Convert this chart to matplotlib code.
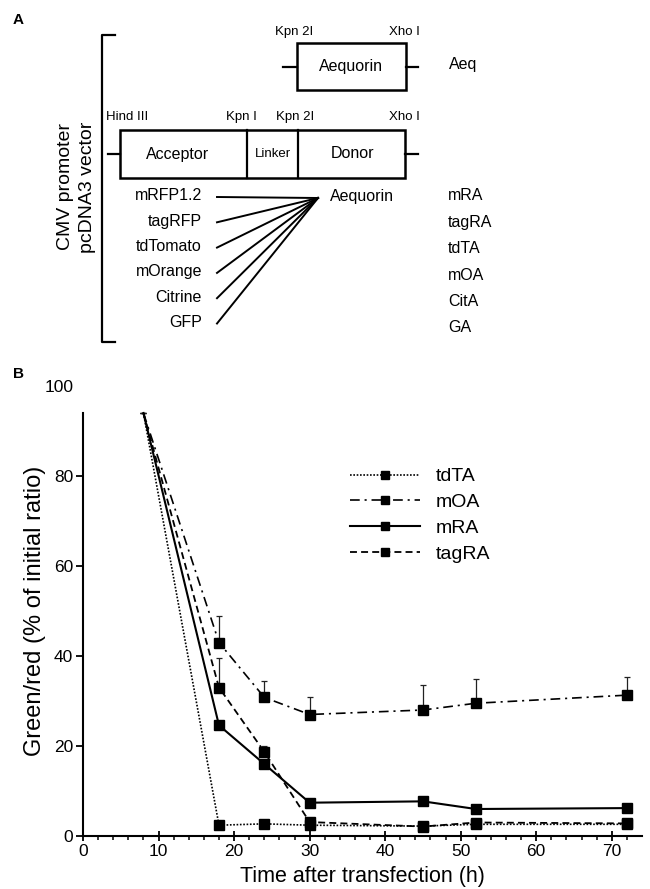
import numpy as np
import matplotlib
matplotlib.use("Agg")
import matplotlib.pyplot as plt
from matplotlib.patches import Rectangle

plt.rcParams['font.family'] = ['Liberation Sans', 'DejaVu Sans']
plt.rcParams['lines.scale_dashes'] = False

# ---- panel B data ----
hours = [8, 18, 24, 30, 45, 52, 72]
tdTA = [94, 2.4, 2.7, 2.4, 2.2, 2.6, 2.6]
mOA = [94, 43.0, 30.8, 27.0, 28.0, 29.5, 31.3]
mOA_err = [0, 5.9, 3.6, 3.8, 5.6, 5.5, 4.0]
mRA = [94, 24.6, 16.0, 7.4, 7.7, 6.0, 6.2]
tagRA = [94, 33.0, 18.7, 3.1, 2.1, 3.0, 2.8]
tagRA_err = [0, 6.6, 1.3, 0, 0, 0, 0]

y_ticks = [0, 20, 40, 60, 80, 100]
x_ticks = [0, 10, 20, 30, 40, 50, 60, 70]

# ---- panel A labels ----
acceptors = ['mRFP1.2', 'tagRFP', 'tdTomato', 'mOrange', 'Citrine', 'GFP']
constructs = ['mRA', 'tagRA', 'tdTA', 'mOA', 'CitA', 'GA']

fig = plt.figure(figsize=(6.5, 8.89), dpi=100)

# overlay in pixel coordinates for the construct diagram
ax0 = fig.add_axes([0, 0, 1, 1])
ax0.set_xlim(0, 650)
ax0.set_ylim(889, 0)
ax0.axis('off')

ax0.text(13, 20, 'A', fontsize=11, fontweight='bold', va='center')
ax0.text(13, 374, 'B', fontsize=11, fontweight='bold', va='center')

# bracket
ax0.plot([115, 102, 102, 115], [35, 35, 342, 342], color='k', lw=1.6)
ax0.text(65, 187, 'CMV promoter', rotation=90, fontsize=14, ha='center', va='center')
ax0.text(87, 187, 'pcDNA3 vector', rotation=90, fontsize=14, ha='center', va='center')

# aequorin alone
ax0.add_patch(Rectangle((297, 43), 109, 47, fill=False, lw=1.8, ec='k'))
ax0.plot([283, 297], [67, 67], color='k', lw=1.6)
ax0.plot([406, 418], [67, 67], color='k', lw=1.6)
ax0.text(351, 67, 'Aequorin', fontsize=11.5, ha='center', va='center')
ax0.text(294, 32, 'Kpn 2I', fontsize=9.5, ha='center', va='center')
ax0.text(404, 32, 'Xho I', fontsize=9.5, ha='center', va='center')
ax0.text(449, 64, 'Aeq', fontsize=11.5, ha='left', va='center')

# fusion construct
ax0.add_patch(Rectangle((120, 130), 285, 48, fill=False, lw=1.8, ec='k'))
ax0.plot([247, 247], [130, 178], color='k', lw=1.6)
ax0.plot([298, 298], [130, 178], color='k', lw=1.6)
ax0.plot([108, 120], [154, 154], color='k', lw=1.6)
ax0.plot([405, 418], [154, 154], color='k', lw=1.6)
ax0.text(178, 154, 'Acceptor', fontsize=11.5, ha='center', va='center')
ax0.text(273, 154, 'Linker', fontsize=9.5, ha='center', va='center')
ax0.text(353, 154, 'Donor', fontsize=11.5, ha='center', va='center')
for lbl, xx in zip(['Hind III', 'Kpn I', 'Kpn 2I', 'Xho I'], [127, 241, 295, 404]):
    ax0.text(xx, 117, lbl, fontsize=9.5, ha='center', va='center')

for i, (acc, con) in enumerate(zip(acceptors, constructs)):
    yl = 196 + i * 25.3
    ax0.text(202, yl, acc, fontsize=11.5, ha='right', va='center')
    ax0.plot([217, 318], [yl + 1, 198], color='k', lw=1.4)
    ax0.text(448, 196 + i * 26.4, con, fontsize=11.5, ha='left', va='center')
ax0.text(330, 196, 'Aequorin', fontsize=11.5, ha='left', va='center')

# ---- panel B chart ----
ax = fig.add_axes([83 / 650, 53 / 889, 559 / 650, 450 / 889])
ax.set_xlim(0, 74)
ax.set_ylim(0, 100)

mk = dict(marker='s', markersize=6.5, color='k', mfc='k', mec='k',
          markevery=slice(1, None))
ax.errorbar(hours, mOA, yerr=[np.zeros(len(mOA_err)), mOA_err], fmt='none',
            ecolor='#222222', elinewidth=0.9, capsize=2.5, capthick=0.9)
ax.errorbar(hours, tagRA, yerr=[np.zeros(len(tagRA_err)), tagRA_err], fmt='none',
            ecolor='#222222', elinewidth=0.9, capsize=2.5, capthick=0.9)
ax.plot(hours, tdTA, linestyle=(0, (1.2, 1.2)), lw=1.2, label='tdTA', **mk)
ax.plot(hours, mOA, linestyle=(0, (7, 3.5, 1.5, 3.5)), lw=1.2, label='mOA', **mk)
ax.plot(hours, mRA, linestyle='-', lw=1.5, label='mRA', **mk)
ax.plot(hours, tagRA, linestyle=(0, (5, 3)), lw=1.3, label='tagRA', **mk)

for s in ['top', 'right']:
    ax.spines[s].set_visible(False)
for s in ['left', 'bottom']:
    ax.spines[s].set_linewidth(1.5)
ax.spines['left'].set_bounds(0, 94)

ax.set_yticks(y_ticks)
ax.set_xticks(x_ticks)
ax.set_xticks(np.arange(0, 74, 2), minor=True)
ax.tick_params(axis='y', direction='out', length=5, width=1.3, labelsize=12.5, pad=2)
ax.tick_params(axis='x', which='major', direction='inout', length=7, width=1.3,
               labelsize=12.5, pad=2)
ax.tick_params(axis='x', which='minor', direction='out', length=3, width=1.1)
ax.yaxis.get_major_ticks()[-1].tick1line.set_visible(False)

ax.set_xlabel('Time after transfection (h)', fontsize=15.5, labelpad=5.5)
ax.set_ylabel('Green/red (% of initial ratio)', fontsize=17, labelpad=-1)

ax.legend(loc='upper left', bbox_to_anchor=(0.46, 0.84), frameon=False,
          fontsize=14, handlelength=3.6, handletextpad=0.8, labelspacing=0.42,
          borderpad=0, markerscale=0.8)

fig.savefig('out.png', dpi=100)
